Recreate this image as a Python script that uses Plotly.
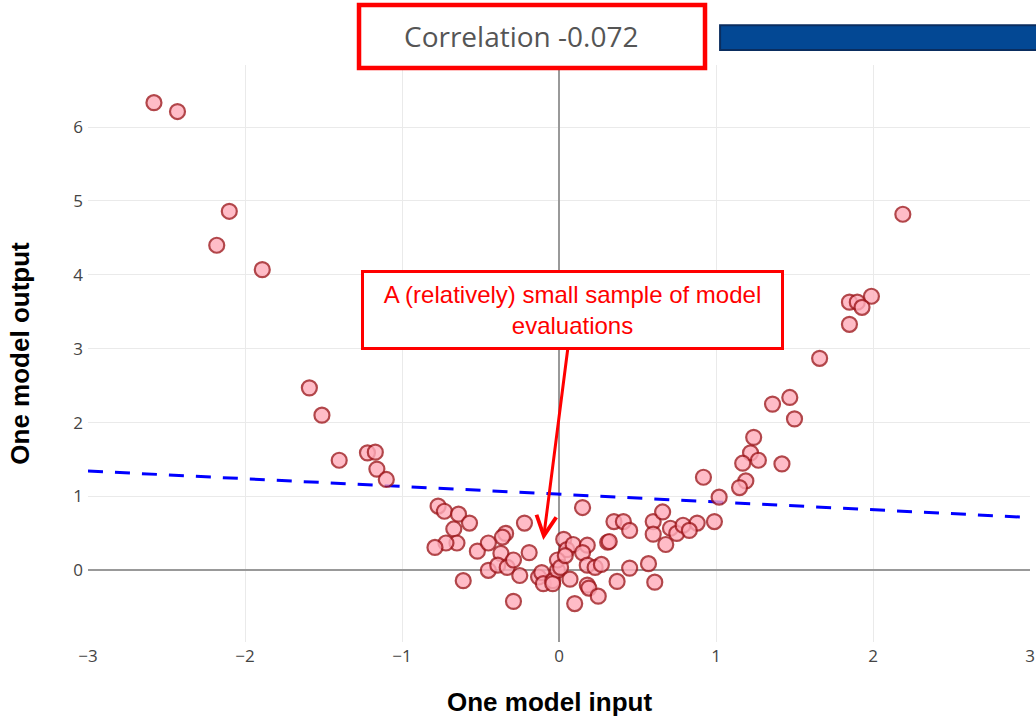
import plotly.graph_objects as go
import numpy as np

# Sampled model evaluations: input value and corresponding output
model_input = [
    -2.58, -2.43, -2.10, -2.18, -1.89, -1.59, -1.51, -1.40, -1.22, -1.17, -1.16, -1.10,
    -0.77, -0.73, -0.64, -0.57, -0.67, -0.65, -0.72, -0.79, -0.52, -0.45, -0.37, -0.34,
    -0.36, -0.22, -0.19, -0.45, -0.39, -0.33, -0.29, -0.25, -0.61, -0.29, -0.13, -0.11,
    -0.10, -0.04, -0.01,
    0.15, 0.35, 0.41, 0.45, 0.60, 0.66, 0.71, 0.60, 0.68, 0.75, 0.31, 0.32, 0.03, 0.05,
    0.09, 0.18, 0.15, -0.01, 0.01, 0.04, 0.18, 0.23, 0.27, 0.45, 0.57, 0.37, 0.07, -0.04,
    0.18, 0.19, 0.25, 0.61, 0.10, 0.79, 0.88, 0.99, 0.83,
    2.19, 1.99, 1.85, 1.90, 1.93, 1.85, 1.66, 1.36, 1.47, 1.50, 1.24, 1.22, 1.27, 1.17,
    1.42, 0.92, 1.19, 1.15, 1.02,
]
model_output = [
    6.33, 6.21, 4.86, 4.40, 4.07, 2.47, 2.10, 1.49, 1.59, 1.60, 1.37, 1.23,
    0.87, 0.80, 0.76, 0.64, 0.56, 0.37, 0.37, 0.31, 0.26, 0.37, 0.23, 0.50,
    0.45, 0.64, 0.24, 0.00, 0.07, 0.04, 0.14, -0.07, -0.14, -0.42, -0.09, -0.03,
    -0.18, -0.14, 0.00,
    0.85, 0.66, 0.66, 0.54, 0.66, 0.79, 0.57, 0.49, 0.35, 0.50, 0.38, 0.39, 0.42, 0.28,
    0.35, 0.34, 0.24, 0.14, 0.04, 0.20, 0.07, 0.04, 0.08, 0.03, 0.09, -0.15, -0.12, -0.18,
    -0.20, -0.24, -0.35, -0.16, -0.45, 0.61, 0.64, 0.66, 0.54,
    4.82, 3.71, 3.63, 3.63, 3.56, 3.33, 2.87, 2.25, 2.34, 2.05, 1.80, 1.59, 1.49, 1.45,
    1.44, 1.26, 1.21, 1.12, 0.99,
]

# Least-squares line through the sample
fit_intercept = 1.03
fit_slope = -0.105
correlation = -0.072

x_ticks = [-3, -2, -1, 0, 1, 2, 3]
x_tick_text = ["\u22123", "\u22122", "\u22121", "0", "1", "2", "3"]
y_ticks = [0, 1, 2, 3, 4, 5, 6]

x_range = [-3, 3]
y_range = [-0.97, 6.84]

fit_x = np.array(x_range, dtype=float)
fit_y = fit_intercept + fit_slope * fit_x

fig = go.Figure()

fig.add_trace(go.Scatter(
    x=fit_x, y=fit_y, mode="lines",
    line=dict(color="rgb(0,0,255)", width=3, dash="15px,12px"),
    hoverinfo="skip", showlegend=False,
))

fig.add_trace(go.Scatter(
    x=model_input, y=model_output, mode="markers",
    marker=dict(size=15, color="rgb(255,172,186)", opacity=0.8,
                line=dict(color="rgb(160,25,30)", width=2.2)),
    showlegend=False,
))

tick_font = dict(family="Open Sans, Arial", size=17, color="#444")
title_font = dict(family="Liberation Sans, Arial", size=26, color="#000", weight="bold")

fig.update_xaxes(
    range=x_range, tickvals=x_ticks, ticktext=x_tick_text,
    showgrid=True, gridcolor="#eaeaea", gridwidth=1,
    zeroline=True, zerolinecolor="#999", zerolinewidth=2,
    showline=False, tickfont=tick_font, ticklabelstandoff=2,
    automargin=False,
)
fig.update_yaxes(
    range=y_range, tickvals=y_ticks,
    showgrid=True, gridcolor="#eaeaea", gridwidth=1,
    zeroline=True, zerolinecolor="#999", zerolinewidth=2,
    showline=False, tickfont=tick_font, ticklabelstandoff=4,
    automargin=False,
    title=dict(text="One model output", font=title_font, standoff=36),
)

# Horizontal axis title
fig.add_annotation(
    xref="paper", yref="paper", x=0.4894, y=-0.104,
    xanchor="center", yanchor="middle", showarrow=False,
    text="One model input", font=title_font,
)

# Correlation heading inside an outlined frame
fig.add_shape(
    type="rect", xref="paper", yref="paper",
    x0=0.2877, x1=0.6550, y0=0.9948, y1=1.1040,
    fillcolor="white", line=dict(color="rgb(255,0,0)", width=4.5),
    layer="above",
)
fig.add_annotation(
    xref="paper", yref="paper", x=0.4597, y=1.0494,
    xanchor="center", yanchor="middle", showarrow=False,
    text=f"Correlation {correlation:.3f}",
    font=dict(family="Open Sans, Arial", size=28, color="#555"),
)

# Banner bar at the top right
fig.add_shape(
    type="rect", xref="paper", yref="paper",
    x0=0.671, x1=1.02, y0=1.026, y1=1.069,
    fillcolor="rgb(3,72,148)", line=dict(color="rgb(10,45,95)", width=2),
    layer="above",
)

# Callout pointing at the sample
fig.add_annotation(
    x=-0.10, y=0.41, xref="x", yref="y",
    ax=29.5, ay=-230.5,
    text="A (relatively) small sample of model<br>evaluations",
    font=dict(family="Liberation Sans, Arial", size=24, color="rgb(255,0,0)"),
    width=409, height=66, borderpad=4,
    bordercolor="rgb(255,0,0)", borderwidth=3, bgcolor="white",
    showarrow=True, arrowhead=5, arrowsize=1.3, arrowwidth=3,
    arrowcolor="rgb(255,0,0)",
)

fig.update_layout(
    width=1036, height=720,
    margin=dict(l=88, r=6, t=65, b=78),
    plot_bgcolor="white", paper_bgcolor="white",
    showlegend=False,
)

fig.write_html("out.html")
